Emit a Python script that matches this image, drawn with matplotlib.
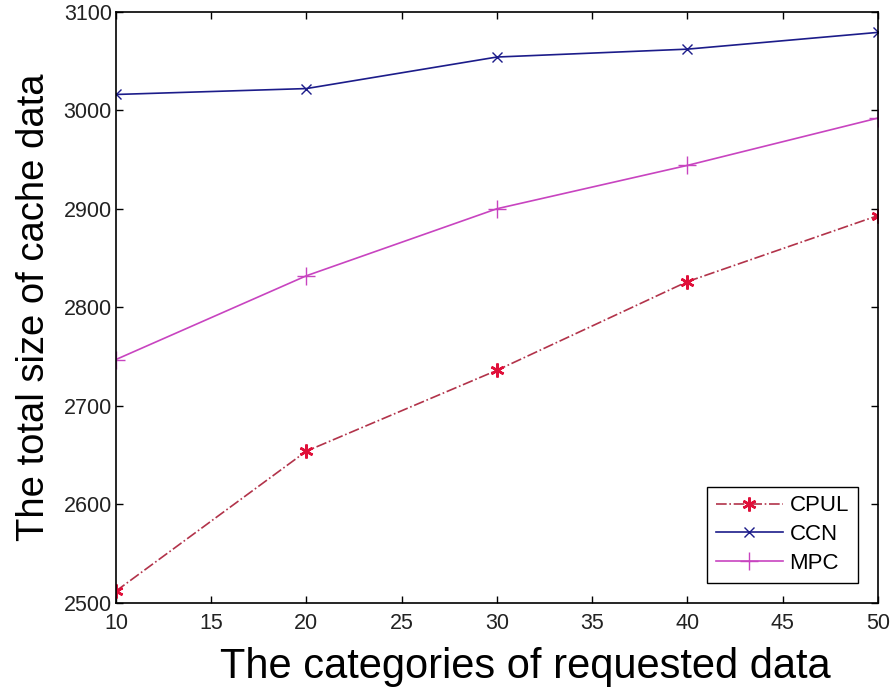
import matplotlib
matplotlib.use("Agg")
import matplotlib.pyplot as plt

plt.rcParams['font.family'] = ['Liberation Sans', 'DejaVu Sans']

categories = [10, 20, 30, 40, 50]
cpul = [2512, 2654, 2736, 2826, 2893]
ccn = [3016, 3022, 3054, 3062, 3079]
mpc = [2747, 2832, 2900, 2944, 2992]

fig = plt.figure(figsize=(8.92, 6.89), dpi=100)
ax = fig.add_axes([0.130, 0.125, 0.854, 0.858])

ax.plot(categories, cpul, color='#b2334a', linestyle='-.', marker=(6, 2, 0),
        markersize=10, markeredgecolor='#e0103a', markeredgewidth=1.8,
        linewidth=1.2, label='CPUL')
ax.plot(categories, ccn, color='#1c1c8a', linestyle='-', marker='x',
        markersize=7, linewidth=1.2, label='CCN')
ax.plot(categories, mpc, color='#c844c0', linestyle='-', marker='+',
        markersize=13, linewidth=1.2, label='MPC')

ax.set_xlim(10, 50)
ax.set_ylim(2500, 3100)
ax.set_xticks(range(10, 55, 5))
ax.set_yticks(range(2500, 3200, 100))
ax.tick_params(direction='in', labelsize=15.5, labelcolor='#222222',
               top=True, right=True, length=5, width=1)
ax.tick_params(axis='x', pad=7)
ax.tick_params(axis='y', pad=3)
for s in ax.spines.values():
    s.set_linewidth(1.2)

ax.set_xlabel('The categories of requested data', fontsize=30)
ax.xaxis.set_label_coords(0.537, -0.075)
ax.set_ylabel('The total size of cache data', fontsize=27.5, labelpad=8)

leg = ax.legend(loc='lower right', fontsize=16, fancybox=False,
                edgecolor='black', framealpha=1, handlelength=3.0,
                handletextpad=0.3, labelspacing=0.35,
                borderaxespad=0.9)
leg.get_frame().set_linewidth(1.0)

fig.savefig('out.png', dpi=100)
